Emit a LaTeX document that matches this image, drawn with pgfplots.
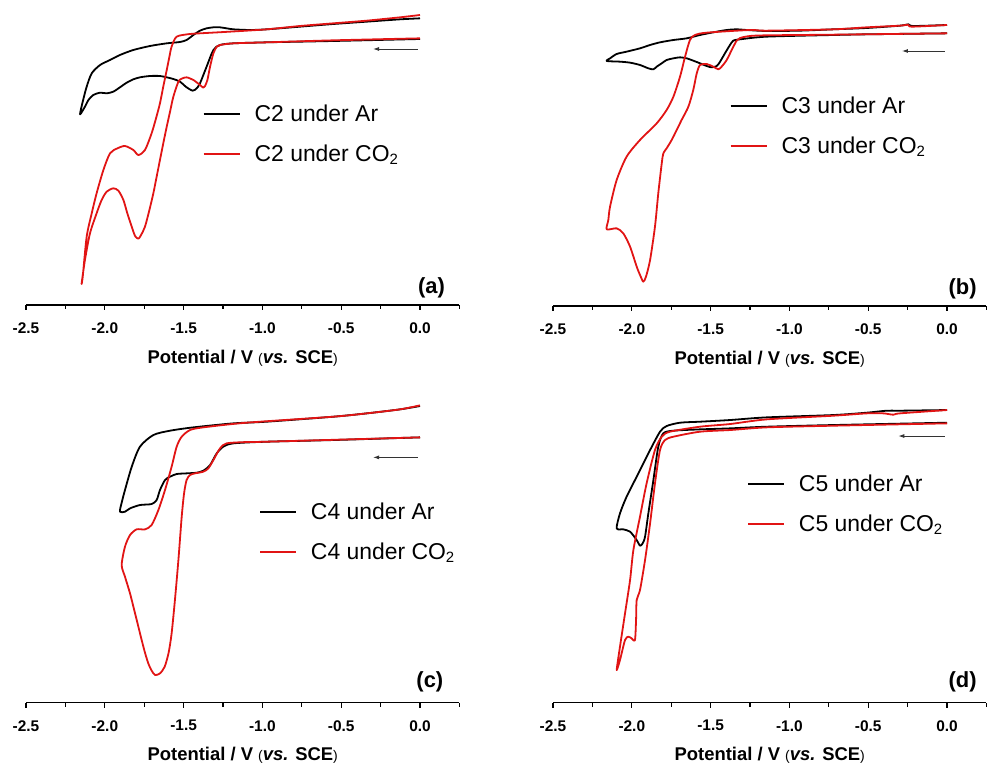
\documentclass[border=0pt]{standalone}
\usepackage{fontspec}
\setmainfont{Liberation Sans}
\usepackage{pgfplots}
\pgfplotsset{compat=1.18}
\usetikzlibrary{arrows.meta}
\definecolor{cvred}{RGB}{225,20,20}
\newcommand{\lgf}{\fontsize{23}{26}\selectfont}
\newcommand{\COtwo}{CO\raisebox{-0.25ex}{\fontsize{15}{15}\selectfont 2}}
\newcommand{\potlabel}{\textbf{Potential / V }{\fontsize{14}{16}\selectfont\mdseries (}\textbf{\textit{vs.} SCE}{\fontsize{14}{16}\selectfont\mdseries )}}
\pgfplotsset{
  cvpanel/.style={
    scale only axis, width=433.4bp, height=300bp,
    xmin=-2.5, xmax=0.25, ymin=0, ymax=900, clip=false,
    axis x line*=bottom, axis y line=none,
    axis line style={line width=1.3bp},
    xtick={-2.5,-2,-1.5,-1,-0.5,0},
    xticklabels={-2.5,-2.0,-1.5,-1.0,-0.5,0.0},
    minor xtick={-2.25,-1.75,-1.25,-0.75,-0.25,0.25},
    tick align=outside,
    major tick length=5bp, minor tick length=4bp,
    tick style={line width=1.3bp, black},
    xticklabel style={font=\bfseries\fontsize{15.5}{18}\selectfont, anchor=center, yshift=-18bp},
    xlabel={\potlabel},
    every axis x label/.style={at={(axis description cs:0.5,0)}, anchor=center, yshift=-53bp, font=\fontsize{18.5}{22}\selectfont},
    legend cell align=left,
    legend style={draw=none, fill=none, inner sep=0pt, outer sep=0pt, anchor=north west,
      row sep=20bp,
      nodes={inner sep=0pt, outer sep=0pt, text height=17bp, text depth=3bp},
      /tikz/every even column/.style={column sep=0pt}},
    legend image code/.code={\draw[##1,line width=1.8bp] (0bp,0.5bp) -- (36bp,0.5bp); \path (50bp,0bp);},
  },
  cvline/.style={line width=1.8bp, smooth, tension=0.45, line join=round},
}
\begin{document}
\begin{tikzpicture}
% ---------------- (a) ----------------
\begin{axis}[cvpanel, at={(26bp,461bp)}, anchor=south west,
  legend style={at={(axis description cs:0.408,0.667)}}]
\addplot[black, cvline] coordinates {
(0,798) (-0.550,792) (-0.973,788) (-1.184,785) (-1.269,780) (-1.311,765) (-1.354,715) (-1.396,665) (-1.417,650) (-1.442,643) (-1.481,653) (-1.523,670) (-1.565,678) (-1.607,683) (-1.650,687) (-1.713,687) (-1.777,683) (-1.819,677) (-1.861,667) (-1.904,653) (-1.946,640) (-1.988,635) (-2.030,637) (-2.073,630) (-2.104,615) (-2.126,595) (-2.157,572) (-2.140,610) (-2.115,655) (-2.083,695) (-2.030,720) (-1.967,735) (-1.904,750) (-1.819,765) (-1.713,777) (-1.607,785) (-1.523,789) (-1.481,795) (-1.438,810) (-1.396,823) (-1.354,830) (-1.311,833) (-1.269,833) (-1.227,830) (-1.184,827) (-1.079,825) (-0.973,827) (-0.761,835) (-0.550,843) (-0.338,850) (-0.127,857) (0,860)};
\addlegendentry{\lgf C2 under Ar}
\addplot[cvred, cvline] coordinates {
(0,800) (-0.550,794) (-0.973,788) (-1.184,785) (-1.269,780) (-1.290,775) (-1.311,755) (-1.332,715) (-1.349,675) (-1.364,657) (-1.375,652) (-1.396,660) (-1.438,675) (-1.481,683) (-1.512,679) (-1.533,670) (-1.565,625) (-1.586,580) (-1.607,535) (-1.629,485) (-1.650,435) (-1.671,385) (-1.692,335) (-1.717,285) (-1.745,235) (-1.770,210) (-1.787,199) (-1.808,207) (-1.829,235) (-1.857,275) (-1.882,315) (-1.914,343) (-1.946,350) (-1.988,340) (-2.020,315) (-2.052,275) (-2.094,215) (-2.126,135) (-2.147,65) (-2.140,85) (-2.115,205) (-2.083,275) (-2.052,335) (-2.009,405) (-1.967,455) (-1.920,470) (-1.872,477) (-1.819,465) (-1.787,450) (-1.745,465) (-1.703,515) (-1.675,560) (-1.650,605) (-1.629,655) (-1.607,705) (-1.590,745) (-1.576,775) (-1.544,805) (-1.459,813) (-1.396,815) (-1.206,820) (-0.973,827) (-0.761,837) (-0.550,845) (-0.338,853) (-0.127,863) (0,870)};
\addlegendentry{\lgf C2 under \COtwo}
\draw[line width=0.9bp, black!80, -{Latex[length=6bp,width=4bp]}] (axis cs:-0.013,768) -- (axis cs:-0.298,768);
\node[anchor=east, font=\bfseries\fontsize{22}{25}\selectfont] at (axis cs:0.18,51) {(a)};
\end{axis}
% ---------------- (b) ----------------
\begin{axis}[cvpanel, at={(553bp,460bp)}, anchor=south west,
  legend style={at={(axis description cs:0.408,0.697)}}]
\addplot[black, cvline] coordinates {
(0,818) (-0.510,815) (-0.721,813) (-1.144,808) (-1.313,800) (-1.356,796) (-1.377,783) (-1.409,758) (-1.440,733) (-1.461,720) (-1.493,716) (-1.525,720) (-1.567,728) (-1.610,736) (-1.652,743) (-1.694,746) (-1.736,743) (-1.779,738) (-1.810,728) (-1.842,718) (-1.863,710) (-1.895,713) (-1.948,723) (-2.011,730) (-2.075,733) (-2.159,735) (-2.138,743) (-2.096,756) (-2.033,763) (-1.948,773) (-1.884,783) (-1.821,791) (-1.736,798) (-1.652,803) (-1.567,813) (-1.483,821) (-1.398,828) (-1.335,830) (-1.271,828) (-1.144,825) (-0.933,826) (-0.721,830) (-0.510,834) (-0.298,841) (-0.245,845) (-0.214,840) (0,843)};
\addlegendentry{\lgf C3 under Ar}
\addplot[cvred, cvline] coordinates {
(0,818) (-0.721,814) (-1.144,812) (-1.250,810) (-1.313,804) (-1.335,796) (-1.366,768) (-1.398,738) (-1.430,718) (-1.451,710) (-1.483,718) (-1.525,726) (-1.567,723) (-1.588,698) (-1.610,648) (-1.641,598) (-1.684,558) (-1.715,528) (-1.747,498) (-1.779,473) (-1.800,458) (-1.810,428) (-1.832,338) (-1.853,238) (-1.884,138) (-1.910,88) (-1.927,73) (-1.945,90) (-1.969,118) (-2.011,178) (-2.054,218) (-2.096,233) (-2.159,230) (-2.149,258) (-2.138,298) (-2.096,378) (-2.033,448) (-1.948,498) (-1.842,548) (-1.779,588) (-1.736,628) (-1.694,688) (-1.662,748) (-1.631,798) (-1.599,813) (-1.525,820) (-1.250,828) (-1.144,826) (-0.721,830) (-0.510,836) (-0.298,841) (-0.245,844) (-0.224,838) (0,843)};
\addlegendentry{\lgf C3 under \COtwo}
\draw[line width=0.9bp, black!80, -{Latex[length=6bp,width=4bp]}] (axis cs:-0.013,765) -- (axis cs:-0.286,765);
\node[anchor=east, font=\bfseries\fontsize{22}{25}\selectfont] at (axis cs:0.21,50) {(b)};
\end{axis}
% ---------------- (c) ----------------
\begin{axis}[cvpanel, at={(26bp,63.3bp)}, anchor=south west,
  legend style={at={(axis description cs:0.538,0.668)}}]
\addplot[black, cvline] coordinates {
(0,796) (-0.550,788) (-0.973,783) (-1.184,778) (-1.248,768) (-1.290,748) (-1.332,713) (-1.375,696) (-1.417,690) (-1.481,688) (-1.544,686) (-1.586,678) (-1.618,668) (-1.650,638) (-1.671,608) (-1.703,596) (-1.777,593) (-1.840,583) (-1.872,573) (-1.904,573) (-1.893,600) (-1.872,638) (-1.829,708) (-1.777,768) (-1.692,803) (-1.586,816) (-1.438,826) (-1.184,838) (-0.973,843) (-0.550,858) (-0.338,868) (-0.127,880) (0,890)};
\addlegendentry{\lgf C4 under Ar}
\addplot[cvred, cvline] coordinates {
(0,796) (-0.973,783) (-1.100,782) (-1.227,778) (-1.269,763) (-1.311,728) (-1.343,703) (-1.375,693) (-1.428,688) (-1.459,683) (-1.481,668) (-1.497,628) (-1.512,558) (-1.533,428) (-1.555,308) (-1.576,208) (-1.595,150) (-1.620,108) (-1.650,88) (-1.681,83) (-1.705,98) (-1.724,118) (-1.745,150) (-1.766,188) (-1.808,268) (-1.840,328) (-1.872,378) (-1.893,413) (-1.872,468) (-1.840,503) (-1.798,520) (-1.745,520) (-1.703,533) (-1.660,578) (-1.618,638) (-1.576,708) (-1.544,768) (-1.512,798) (-1.459,818) (-1.375,826) (-1.100,840) (-0.550,858) (-0.338,868) (-0.127,880) (0,892)};
\addlegendentry{\lgf C4 under \COtwo}
\draw[line width=0.9bp, black!80, -{Latex[length=6bp,width=4bp]}] (axis cs:-0.013,736) -- (axis cs:-0.298,736);
\node[anchor=east, font=\bfseries\fontsize{22}{25}\selectfont] at (axis cs:0.17,63) {(c)};
\end{axis}
% ---------------- (d) ----------------
\begin{axis}[cvpanel, at={(553bp,63.3bp)}, anchor=south west,
  legend style={at={(axis description cs:0.448,0.762)}}]
\addplot[black, cvline] coordinates {
(0,840) (-0.721,833) (-1.144,828) (-1.377,823) (-1.567,820) (-1.736,816) (-1.800,808) (-1.832,768) (-1.863,668) (-1.895,568) (-1.916,498) (-1.931,478) (-1.948,471) (-1.969,488) (-2.011,513) (-2.054,520) (-2.096,523) (-2.075,568) (-2.033,618) (-1.969,678) (-1.884,758) (-1.821,813) (-1.779,830) (-1.694,840) (-1.567,843) (-1.377,848) (-1.144,856) (-0.721,863) (-0.510,870) (-0.383,876) (-0.298,876) (0,878)};
\addlegendentry{\lgf C5 under Ar}
\addplot[cvred, cvline] coordinates {
(0,838) (-0.721,831) (-1.144,826) (-1.377,818) (-1.567,813) (-1.736,798) (-1.789,788) (-1.821,758) (-1.853,658) (-1.884,538) (-1.916,428) (-1.948,338) (-1.969,308) (-1.973,248) (-1.980,188) (-2.001,193) (-2.022,198) (-2.043,188) (-2.075,128) (-2.096,98) (-2.075,168) (-2.043,268) (-2.011,368) (-1.990,458) (-1.948,558) (-1.906,658) (-1.853,758) (-1.810,798) (-1.758,813) (-1.567,828) (-1.377,836) (-1.144,850) (-0.721,861) (-0.510,868) (-0.404,868) (-0.341,864) (-0.298,868) (0,878)};
\addlegendentry{\lgf C5 under \COtwo}
\draw[line width=0.9bp, black!80, -{Latex[length=6bp,width=4bp]}] (axis cs:-0.013,800) -- (axis cs:-0.309,800);
\node[anchor=east, font=\bfseries\fontsize{22}{25}\selectfont] at (axis cs:0.21,63) {(d)};
\end{axis}
\pgfresetboundingbox
\useasboundingbox (0,0) rectangle (990bp,766bp);
\end{tikzpicture}
\end{document}
